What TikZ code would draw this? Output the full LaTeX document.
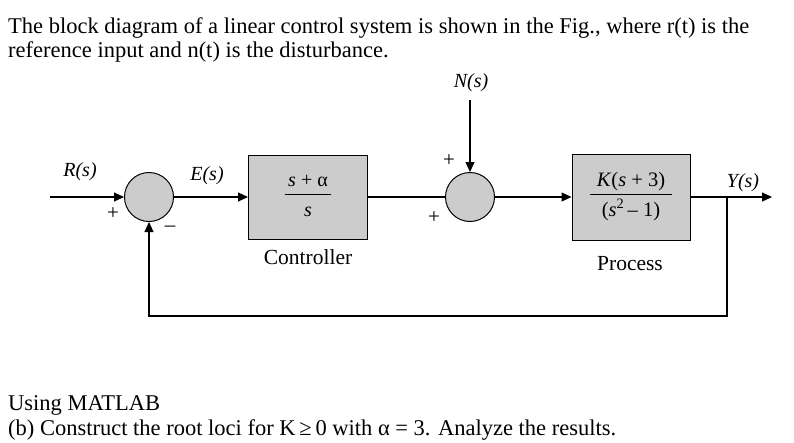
\documentclass[tikz,border=0pt]{standalone}
\usepackage{fontspec}
\setmainfont{Liberation Serif}
\usetikzlibrary{arrows.meta}
\setlength{\arrayrulewidth}{0.9pt}
\newcommand{\myfrac}[2]{\begin{tabular}{@{\,}c@{\,}}#1\\[1pt]\hline\rule{0pt}{1.05em}#2\end{tabular}}
\begin{document}
\begin{tikzpicture}[x=1pt,y=-1pt,
  sig/.style={line width=1.1pt,-{Triangle[length=10pt,width=9pt]}},
  wire/.style={line width=1.1pt},
  blk/.style={draw,line width=1pt,fill=gray!40,minimum width=119pt,inner sep=0pt},
  sumj/.style={draw,circle,line width=1pt,fill=gray!40,minimum size=49pt,inner sep=0pt},
  lbl/.style={font=\fontsize{20}{22}\selectfont\itshape,inner sep=0pt},
  sgn/.style={font=\fontsize{21}{22}\selectfont,inner sep=0pt},
  blkcaption/.style={font=\fontsize{21.5}{23}\selectfont,inner sep=0pt},
  txt/.style={font=\fontsize{22.5}{24}\selectfont,inner sep=0pt,anchor=base west}]
\useasboundingbox (0,0) rectangle (794,442);
% header text
\node[txt] (t1) at (8,33) {The block diagram of a linear control system is shown in the Fig., where r(t) is the};
\node[txt] (t2) at (8,57) {reference input and n(t) is the disturbance.};
% blocks
\node[sumj] (s1) at (149,197) {};
\node[blk,minimum height=84pt,font=\fontsize{20}{22}\selectfont] (ctrl) at (308,197) {\myfrac{\textit{s} + α}{\textit{s}}};
\node[sumj] (s2) at (470,197) {};
\node[blk,minimum height=86pt,minimum width=118pt,font=\fontsize{20.5}{22}\selectfont] (proc) at (631,197) {\myfrac{\,\textit{K}(\textit{s} + 3)\,}{(\textit{s}\textsuperscript{2}\,– 1)}};
% coordinates
\coordinate (in) at (50,197);
\coordinate (nin) at (470,100);
\coordinate (out) at (772,197);
\coordinate (br) at (727,197);
\coordinate (bl) at (149,316);
\coordinate (brb) at (727,316);
% connectors
\draw[sig] (in) -- (s1);
\draw[sig] (s1) -- (ctrl);
\draw[wire] (ctrl) -- (s2);
\draw[sig] (nin) -- (s2);
\draw[sig] (s2) -- (proc);
\draw[sig] (proc) -- (out);
\draw[sig] (br) -- (brb) -- (bl) -- (s1);
% labels
\node[lbl] (lR) at (80,172) {R(\textit{s})};
\node[lbl] (lE) at (207,176) {E(\textit{s})};
\node[lbl] (lN) at (471,83) {N(\textit{s})};
\node[lbl] (lY) at (743,183) {Y(\textit{s})};
\node[sgn] (p1) at (113,214) {+};
\node[sgn] (m1) at (170,229) {–};
\node[sgn] (p2) at (449,161) {+};
\node[sgn] (p3) at (434,218) {+};
\node[blkcaption] (cc) at (308,257) {Controller};
\node[blkcaption] (pc) at (630,264) {Process};
% bottom text
\node[txt] (b1) at (8,410) {Using MATLAB};
\node[txt] (b2) at (8,435) {(b) Construct the root loci for K\,≥\,0 with α = 3. Analyze the results.};
\end{tikzpicture}
\end{document}
